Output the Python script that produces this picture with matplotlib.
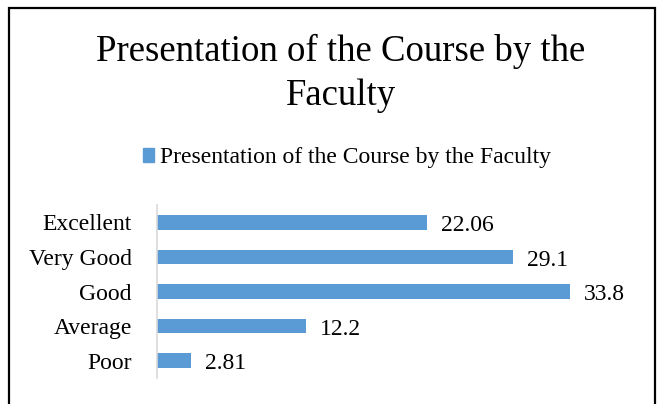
import matplotlib
matplotlib.use("Agg")
import matplotlib.pyplot as plt
from matplotlib.patches import Rectangle, Patch

categories = ["Excellent", "Very Good", "Good", "Average", "Poor"]
values = [22.06, 29.1, 33.8, 12.2, 2.81]
labels = ["22.06", "29.1", "33.8", "12.2", "2.81"]
series_name = "Presentation of the Course by the Faculty"
title_lines = ["Presentation of the Course by the", "Faculty"]

plt.rcParams['font.family'] = ['Liberation Serif', 'DejaVu Serif']

fig = plt.figure(figsize=(6.6, 4.04), dpi=100)
ax = fig.add_axes([157/660, 1-378/404, 489/660, 173/404])

color = "#5B9BD5"
ypos = list(range(len(categories)))[::-1]
bars = ax.barh(ypos, values, height=0.42, color=color)
for y, v, lab in zip(ypos, values, labels):
    ax.annotate(lab, xy=(v, y), xytext=(10, -0.5), textcoords="offset points",
                ha="left", va="center_baseline", fontsize=17)
ax.set_xlim(0, 40)
ax.set_ylim(-0.5, len(categories) - 0.5)
ax.set_yticks(ypos)
ax.set_yticklabels(categories, fontsize=17)
ax.tick_params(axis='y', length=0, pad=18)
ax.set_xticks([])
for s in ["top", "right", "bottom"]:
    ax.spines[s].set_visible(False)
ax.spines["left"].set_color("#d9d9d9")
ax.spines["left"].set_linewidth(1.2)

fig.text(341/660, 1-61/404, title_lines[0], ha="center", va="baseline", fontsize=26.5)
fig.text(341/660, 1-105/404, title_lines[1], ha="center", va="baseline", fontsize=26.5)

handle = Patch(facecolor=color, edgecolor=color)
fig.legend([handle], [series_name], loc="center", bbox_to_anchor=(347/660, 1-158/404),
           frameon=False, fontsize=17, handlelength=0.5, handleheight=0.5,
           handletextpad=0.25, borderpad=0, borderaxespad=0)

fig.patches.append(Rectangle((9/660, -0.1), (655-9)/660, 1.1 - 8/404, transform=fig.transFigure,
                             fill=False, edgecolor="black", linewidth=1.6))

fig.savefig("out.png", dpi=100)
